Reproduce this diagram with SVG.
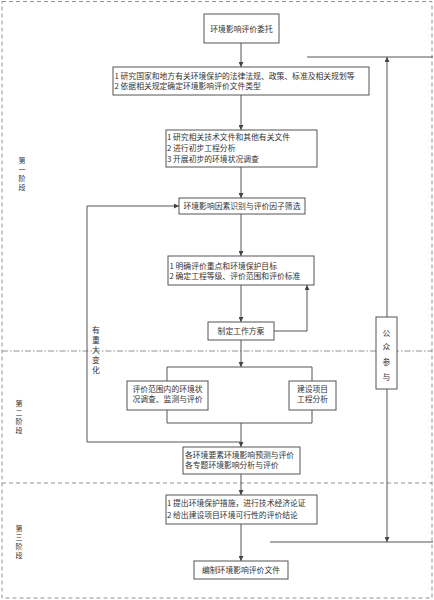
<svg xmlns="http://www.w3.org/2000/svg" width="434" height="600" viewBox="0 0 434 600">
<style>
.bx{fill:#fff;stroke:#555;stroke-width:1}
.t{font-family:"Noto Sans CJK SC","Noto Sans CJK JP",sans-serif;font-size:7.8px;fill:#333}
.c{text-anchor:middle}
.s{font-size:7px}
.ln{fill:none;stroke:#555;stroke-width:1}
.bd{fill:none;stroke:#777;stroke-width:0.8;stroke-dasharray:4 3}
</style>
<defs>
<marker id="ah" viewBox="0 0 8 8" refX="8" refY="4" markerWidth="5" markerHeight="5" orient="auto" markerUnits="userSpaceOnUse"><path d="M0,0 L8,4 L0,8 z" fill="#444"/></marker>
</defs>
<rect width="434" height="600" fill="#fff"/>
<rect class="bd" x="2" y="1.5" width="430" height="596.5"/>
<line class="bd" x1="2" y1="483" x2="432" y2="483"/>
<line x1="2" y1="351" x2="432" y2="351" stroke="#777" stroke-width="0.8" stroke-dasharray="6 2 1.5 2"/>
<g id="stages" class="t c s">
<text x="22" y="163">第</text><text x="22" y="172">一</text><text x="22" y="181">阶</text><text x="22" y="190">段</text>
<text x="19" y="406">第</text><text x="19" y="415">二</text><text x="19" y="424">阶</text><text x="19" y="433">段</text>
<text x="19" y="531">第</text><text x="19" y="540">三</text><text x="19" y="549">阶</text><text x="19" y="558">段</text>
</g>
<g id="connectors">
<path class="ln" d="M241,43 V67" marker-end="url(#ah)"/>
<path class="ln" d="M241,95 V130" marker-end="url(#ah)"/>
<path class="ln" d="M241,167 V198" marker-end="url(#ah)"/>
<path class="ln" d="M241,214 V256" marker-end="url(#ah)"/>
<path class="ln" d="M241,285 V322" marker-end="url(#ah)"/>
<path class="ln" d="M274,331 H307 V285" marker-end="url(#ah)"/>
<path class="ln" d="M241,340 V367" marker-end="url(#ah)"/>
<path class="ln" d="M167,381 V367 H312 V381"/>
<path class="ln" d="M167,410 V423 H312 V410"/>
<path class="ln" d="M241,423 V447" marker-end="url(#ah)"/>
<path class="ln" d="M241,442 H87 V206 H179" marker-end="url(#ah)"/>
<path class="ln" d="M241,474 V495" marker-end="url(#ah)"/>
<path class="ln" d="M241,524 V561" marker-end="url(#ah)"/>
<path class="ln" d="M307,57 H433"/>
<path class="ln" d="M270,542 H433"/>
<path class="ln" d="M387,300 V57" marker-end="url(#ah)"/>
<path class="ln" d="M387,300 V542" marker-end="url(#ah)"/>
</g>
<g id="change" class="t c">
<text x="96" y="333">有</text><text x="96" y="343">重</text><text x="96" y="353">大</text><text x="96" y="363">变</text><text x="96" y="373">化</text>
</g>
<g id="n1"><rect class="bx" x="204" y="14" width="75" height="29"/><text class="t c" x="241.5" y="31.5" font-size="8">环境影响评价委托</text></g>
<g id="n2"><rect class="bx" x="113" y="67" width="256" height="28"/><text class="t" x="114.5" y="79">1 研究国家和地方有关环境保护的法律法规、政策、标准及相关规划等</text><text class="t" x="114.5" y="89">2 依据相关规定确定环境影响评价文件类型</text></g>
<g id="n3"><rect class="bx" x="166" y="130" width="151" height="37"/><text class="t" x="167" y="140">1 研究相关技术文件和其他有关文件</text><text class="t" x="167" y="151">2 进行初步工程分析</text><text class="t" x="167" y="162">3 开展初步的环境状况调查</text></g>
<g id="n4"><rect class="bx" x="179" y="198" width="126" height="16"/><text class="t c" x="242" y="209" font-size="8">环境影响因素识别与评价因子筛选</text></g>
<g id="n5"><rect class="bx" x="168" y="256" width="146" height="29"/><text class="t" x="169.5" y="268.5">1 明确评价重点和环境保护目标</text><text class="t" x="169.5" y="279">2 确定工程等级、评价范围和评价标准</text></g>
<g id="n6"><rect class="bx" x="208" y="322" width="66" height="18"/><text class="t c" x="241" y="334">制定工作方案</text></g>
<g id="n7"><rect class="bx" x="127" y="381" width="81" height="29"/><text class="t c" x="167.5" y="392">评价范围内的环境状</text><text class="t c" x="167.5" y="402">况调查、监测与评价</text></g>
<g id="n8"><rect class="bx" x="289" y="381" width="47" height="29"/><text class="t c" x="312.5" y="392">建设项目</text><text class="t c" x="312.5" y="402">工程分析</text></g>
<g id="n9"><rect class="bx" x="183" y="447" width="117" height="27"/><text class="t" x="185" y="458">各环境要素环境影响预测与评价</text><text class="t" x="185" y="468">各专题环境影响分析与评价</text></g>
<g id="n10"><rect class="bx" x="166" y="495" width="151" height="29"/><text class="t" x="167" y="506">1 提出环境保护措施，进行技术经济论证</text><text class="t" x="167" y="518">2 给出建设项目环境可行性的评价结论</text></g>
<g id="n11"><rect class="bx" x="194" y="561" width="94" height="18"/><text class="t c" x="241" y="573">编制环境影响评价文件</text></g>
<g id="n12"><rect class="bx" x="376" y="317" width="21" height="72"/><text class="t c" x="386.5" y="336">公</text><text class="t c" x="386.5" y="350">众</text><text class="t c" x="386.5" y="365">参</text><text class="t c" x="386.5" y="380">与</text></g>
</svg>
